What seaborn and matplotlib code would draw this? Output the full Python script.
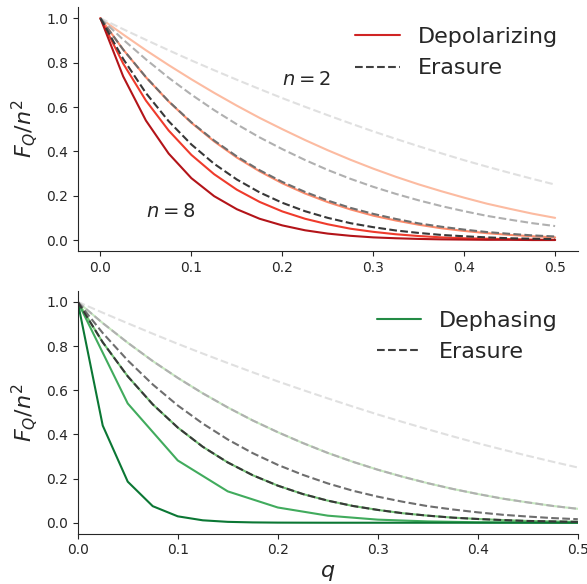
import numpy as np
import pandas as pd
import seaborn as sns
from matplotlib import pyplot as plt
from matplotlib.lines import Line2D

# noise strength grid
q = [0.0, 0.025, 0.05, 0.075, 0.1, 0.125, 0.15, 0.175, 0.2, 0.225, 0.25,
     0.275, 0.3, 0.325, 0.35, 0.375, 0.4, 0.425, 0.45, 0.475, 0.5]
q_coarse = [0.0, 0.05, 0.1, 0.15, 0.2, 0.25, 0.3, 0.35, 0.4, 0.45, 0.5]

# erasure, n = 2, 4, 6, 8
erasure_n2 = [1.0, 0.951, 0.903, 0.856, 0.810, 0.766, 0.723, 0.681, 0.640, 0.601, 0.563,
              0.526, 0.490, 0.456, 0.423, 0.391, 0.360, 0.331, 0.303, 0.276, 0.250]
erasure_n4 = [1.0, 0.904, 0.815, 0.732, 0.656, 0.586, 0.522, 0.463, 0.410, 0.361, 0.316,
              0.276, 0.240, 0.208, 0.179, 0.153, 0.130, 0.109, 0.092, 0.076, 0.063]
erasure_n6 = [1.0, 0.859, 0.735, 0.626, 0.531, 0.449, 0.377, 0.315, 0.262, 0.217, 0.178,
              0.145, 0.118, 0.095, 0.075, 0.060, 0.047, 0.036, 0.028, 0.021, 0.016]
erasure_n8 = [1.0, 0.817, 0.663, 0.536, 0.431, 0.344, 0.273, 0.215, 0.168, 0.130, 0.100,
              0.076, 0.058, 0.043, 0.032, 0.023, 0.017, 0.012, 0.008, 0.006, 0.004]

# depolarizing, n = 2, 4, 6, 8
depol_n2 = [1.0, 0.927, 0.856, 0.789, 0.725, 0.664, 0.606, 0.551, 0.500, 0.451, 0.405,
            0.362, 0.322, 0.285, 0.251, 0.220, 0.191, 0.164, 0.141, 0.119, 0.100]
depol_n4 = [1.0, 0.859, 0.734, 0.625, 0.529, 0.445, 0.372, 0.310, 0.256, 0.210, 0.171,
            0.138, 0.110, 0.088, 0.069, 0.053, 0.041, 0.031, 0.023, 0.017, 0.012]
depol_n6 = [1.0, 0.796, 0.629, 0.494, 0.384, 0.297, 0.227, 0.172, 0.129, 0.096, 0.071,
            0.051, 0.037, 0.026, 0.018, 0.012, 0.008, 0.006, 0.004, 0.002, 0.001]
depol_n8 = [1.0, 0.738, 0.539, 0.390, 0.279, 0.198, 0.139, 0.096, 0.066, 0.044, 0.029,
            0.019, 0.012, 0.008, 0.005, 0.003, 0.002, 0.001, 0.001, 0.0, 0.0]

# dephasing
dephase_a = [1.0, 0.904, 0.815, 0.732, 0.656, 0.586, 0.522, 0.463, 0.410, 0.361, 0.316,
             0.276, 0.240, 0.208, 0.179, 0.153, 0.130, 0.109, 0.092, 0.076, 0.063]
dephase_b = [1.0, 0.817, 0.663, 0.536, 0.431, 0.344, 0.273, 0.215, 0.168, 0.130, 0.100,
             0.076, 0.058, 0.043, 0.032, 0.023, 0.017, 0.012, 0.008, 0.006, 0.004]
dephase_c = [1.0, 0.540, 0.282, 0.142, 0.069, 0.032, 0.014, 0.006, 0.002, 0.001, 0.0]
dephase_d = [1.0, 0.440, 0.186, 0.075, 0.029, 0.011, 0.004, 0.0015, 0.0005, 0.0002, 0.0,
             0.0, 0.0, 0.0, 0.0, 0.0, 0.0, 0.0, 0.0, 0.0, 0.0]

reds = ['#fcbba1', '#fc8a6a', '#ef3b2c', '#b31419']
greens = ['#c7e9c0', '#74c476', '#41ab5d', '#0b7734']
grays = ['#e0e0e0', '#b0b0b0', '#6e6e6e', '#383838']

sns.set_style("ticks")

fig = plt.figure(figsize=(5.87, 5.84), dpi=100)
ax1 = fig.add_axes([0.1324, 0.570, 0.852, 0.4176])
ax2 = fig.add_axes([0.1324, 0.086, 0.852, 0.416])

# top: depolarizing vs erasure
for vals, c in zip([depol_n2, depol_n4, depol_n6, depol_n8], reds):
    sns.lineplot(x=q, y=vals, ax=ax1, color=c, lw=1.5)
for vals, c in zip([erasure_n2, erasure_n4, erasure_n6, erasure_n8], grays):
    sns.lineplot(x=q, y=vals, ax=ax1, color=c, lw=1.5, linestyle='--')

ax1.set_xlim(-0.025, 0.525)
ax1.set_ylim(-0.05, 1.05)
ax1.set_xticks([0.0, 0.1, 0.2, 0.3, 0.4, 0.5])
ax1.set_yticks([0.0, 0.2, 0.4, 0.6, 0.8, 1.0])
ax1.set_ylabel('$F_Q/n^2$', fontsize=16)
ax1.text(0.2, 0.70, '$n=2$', fontsize=14)
ax1.text(0.05, 0.105, '$n=8$', fontsize=14)
ax1.legend(handles=[Line2D([], [], color='#d02424', lw=1.5),
                    Line2D([], [], color='#404040', lw=1.5, linestyle='--')],
           labels=['Depolarizing', 'Erasure'], loc='upper right',
           frameon=False, fontsize=16)

# bottom: dephasing vs erasure
for x, vals, c in zip([q, q, q_coarse, q], [dephase_a, dephase_b, dephase_c, dephase_d], greens):
    sns.lineplot(x=x, y=vals, ax=ax2, color=c, lw=1.5)
for vals, c in zip([erasure_n2, erasure_n4, erasure_n6, erasure_n8], grays):
    sns.lineplot(x=q, y=vals, ax=ax2, color=c, lw=1.5, linestyle='--')

ax2.set_xlim(0.0, 0.5)
ax2.set_ylim(-0.05, 1.05)
ax2.set_xticks([0.0, 0.1, 0.2, 0.3, 0.4, 0.5])
ax2.set_yticks([0.0, 0.2, 0.4, 0.6, 0.8, 1.0])
ax2.set_ylabel('$F_Q/n^2$', fontsize=16)
ax2.set_xlabel('$q$', fontsize=16)
ax2.legend(handles=[Line2D([], [], color='#238b45', lw=1.5),
                    Line2D([], [], color='#404040', lw=1.5, linestyle='--')],
           labels=['Dephasing', 'Erasure'], loc='upper right',
           frameon=False, fontsize=16)

sns.despine(fig=fig)
fig.savefig('out.png', dpi=100)
